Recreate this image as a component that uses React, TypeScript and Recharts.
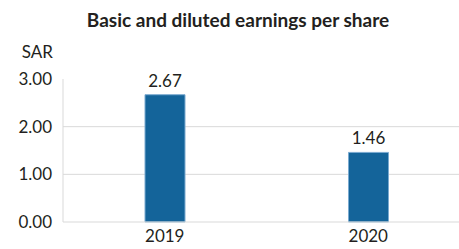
import React from 'react';
import { BarChart, Bar, XAxis, YAxis, CartesianGrid, LabelList } from 'recharts';

const years = ['2019', '2020'];
const eps = [2.67, 1.46];
const yTicks = [0, 1, 2, 3];

const data = years.map((year, i) => ({ year, eps: eps[i] }));

const font = 'Lato, "Open Sans", sans-serif';

export default function App() {
  return (
    <div style={{ position: 'fixed', left: 0, top: 0, width: 459, height: 249, overflow: 'hidden', background: '#fff', fontFamily: font }}>
      <div style={{ position: 'absolute', left: 0, width: 476, top: 8, textAlign: 'center', fontWeight: 700, fontSize: 19, color: '#231f20' }}>
        Basic and diluted earnings per share
      </div>
      <div style={{ position: 'absolute', right: 459 - 53, top: 41, fontSize: 17, color: '#231f20' }}>SAR</div>
      <BarChart width={470} height={249} data={data} margin={{ top: 79, right: 0, bottom: 0, left: 0 }}>
        <CartesianGrid vertical={false} horizontalValues={[1, 2]} stroke="#d9d9d9" />
        <XAxis
          dataKey="year"
          height={27}
          tickLine={false}
          axisLine={{ stroke: '#d9d9d9' }}
          tick={{ fill: '#231f20', fontSize: 17, fontFamily: font }}
          tickMargin={2}
        />
        <YAxis
          width={63}
          domain={[0, 3]}
          ticks={yTicks}
          tickFormatter={(v: number) => v.toFixed(2)}
          tickLine={false}
          axisLine={{ stroke: '#d9d9d9' }}
          tick={{ fill: '#231f20', fontSize: 17, fontFamily: font }}
          tickMargin={5}
        />
        <Bar dataKey="eps" fill="#14649a" stroke="#7aaad0" strokeWidth={1} barSize={40} isAnimationActive={false}>
          <LabelList dataKey="eps" position="top" offset={8} formatter={(v: number) => v.toFixed(2)} style={{ fill: '#231f20', fontSize: 17, fontFamily: font }} />
        </Bar>
      </BarChart>
    </div>
  );
}
